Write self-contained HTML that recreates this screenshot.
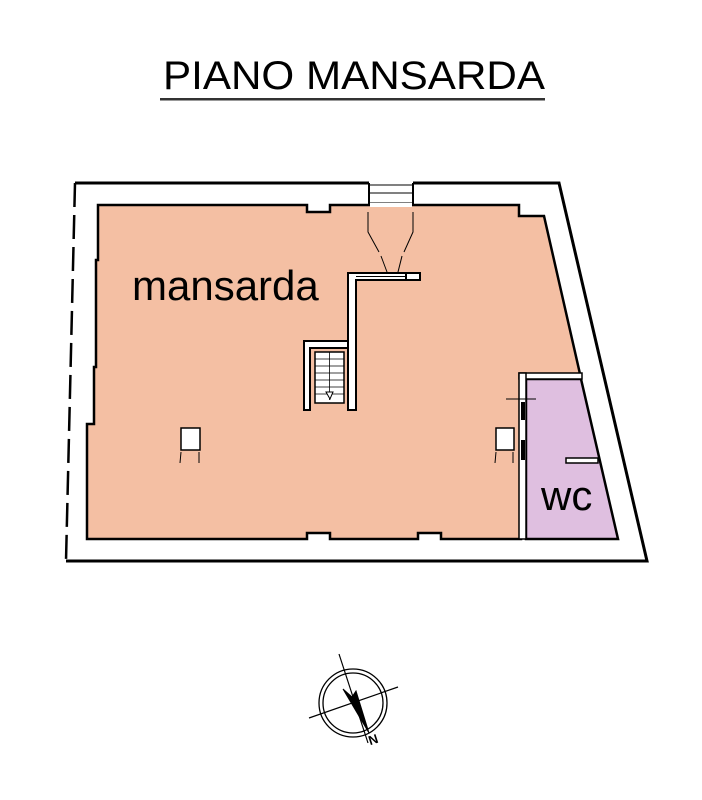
<!DOCTYPE html>
<html><head><meta charset="utf-8"><style>
html,body{margin:0;padding:0;background:#fff;}
svg{display:block;}
</style></head><body>
<svg width="702" height="800" viewBox="0 0 702 800" xmlns="http://www.w3.org/2000/svg" font-family="Liberation Sans, Arial, sans-serif">
<rect width="702" height="800" fill="#fff"/>
<text x="163" y="89" font-size="40" textLength="382" lengthAdjust="spacingAndGlyphs" fill="#000">PIANO MANSARDA</text>
<rect x="160" y="98" width="385" height="2.5" fill="#333"/>

<polyline points="75,183 369,183" fill="none" stroke="#000" stroke-width="3"/>
<polyline points="413,183 559,183 647,561 66,561" fill="none" stroke="#000" stroke-width="3"/>
<line x1="75" y1="183" x2="66" y2="561" stroke="#000" stroke-width="2.5" stroke-dasharray="24,8"/>
<line x1="369" y1="183" x2="369" y2="205" stroke="#000" stroke-width="2"/>
<line x1="413" y1="183" x2="413" y2="205" stroke="#000" stroke-width="2"/>
<line x1="369" y1="185" x2="413" y2="185" stroke="#000" stroke-width="1"/>
<line x1="369" y1="193" x2="413" y2="193" stroke="#000" stroke-width="1"/>
<line x1="369" y1="203" x2="413" y2="203" stroke="#000" stroke-width="1"/>

<polygon points="98,205 307,205 307,212 330,212 330,205 519,205 519,216 544,216 580,374 521,374 521,539 441,539 441,533 418,533 418,539 330,539 330,533 307,533 307,539 87,539 87,424 94,424 94,367 96,367 96,260 98,260"
 fill="#f4bfa3" stroke="#000" stroke-width="2.5" stroke-linejoin="miter"/>
<polygon points="526,379 581,379 618,539 526,539" fill="#dfbfe0" stroke="#000" stroke-width="2.5"/>
<rect x="519" y="373" width="63" height="6" fill="#fff" stroke="#000" stroke-width="1.5"/>
<rect x="519" y="373" width="7" height="166" fill="#fff" stroke="#000" stroke-width="1.5"/>
<rect x="521" y="402" width="4" height="18" fill="#000"/>
<rect x="521" y="440" width="4" height="20" fill="#000"/>
<line x1="506" y1="399" x2="536" y2="399" stroke="#000" stroke-width="1"/>
<rect x="566" y="458" width="32" height="5" fill="#fff" stroke="#000" stroke-width="1.5"/>

<rect x="370" y="203" width="42" height="4" fill="#fff"/>

<g fill="none" stroke="#000" stroke-width="1">
<polyline points="368,212 368,232 379,252"/>
<line x1="381" y1="256" x2="390" y2="280"/>
<polyline points="413,212 413,232 404,252"/>
<line x1="402" y1="256" x2="396" y2="280"/>
</g>

<polygon points="348,273 420,273 420,280 356,280 356,410 348,410" fill="#fff" stroke="#000" stroke-width="2"/>
<rect x="406" y="273" width="14" height="7" fill="#fff" stroke="#000" stroke-width="2"/>
<line x1="356" y1="276.5" x2="406" y2="276.5" stroke="#000" stroke-width="1"/>
<polygon points="304,341 348,341 348,348 310,348 310,410 304,410" fill="#fff" stroke="#000" stroke-width="2"/>
<rect x="315" y="352" width="29" height="51" fill="#fff" stroke="#000" stroke-width="1.5"/>
<g stroke="#000" stroke-width="0.8">
<line x1="315" y1="359" x2="344" y2="359"/><line x1="315" y1="366" x2="344" y2="366"/>
<line x1="315" y1="373" x2="344" y2="373"/><line x1="315" y1="380" x2="344" y2="380"/>
<line x1="315" y1="387" x2="344" y2="387"/><line x1="315" y1="394" x2="344" y2="394"/>
<line x1="329.5" y1="352" x2="329.5" y2="400"/>
</g>
<polygon points="326,392 333,392 330,399" fill="#fff" stroke="#000" stroke-width="1"/>

<rect x="181" y="428" width="19" height="22" fill="#fff" stroke="#000" stroke-width="1.5"/>
<line x1="181" y1="452" x2="180" y2="463" stroke="#000" stroke-width="1"/>
<line x1="199" y1="452" x2="199" y2="463" stroke="#000" stroke-width="1"/>
<rect x="496" y="428" width="18" height="22" fill="#fff" stroke="#000" stroke-width="1.5"/>
<line x1="496" y1="452" x2="495" y2="463" stroke="#000" stroke-width="1"/>
<line x1="513" y1="452" x2="513" y2="463" stroke="#000" stroke-width="1"/>

<text x="132" y="300" font-size="42" fill="#000">mansarda</text>
<text x="541" y="510" font-size="42" fill="#000">wc</text>

<g transform="translate(353,703)" fill="none" stroke="#000">
<circle r="34" stroke-width="1.3"/>
<circle r="30" stroke-width="1.3"/>
<line x1="-14" y1="-49" x2="15" y2="40" stroke-width="1.2"/>
<line x1="-44" y1="15" x2="45" y2="-16" stroke-width="1.2"/>
<polygon points="-10,-14 -1,-6 3,-12 16,30" fill="#000" stroke-width="1"/>
</g>
<text x="368" y="744" font-size="13" font-weight="bold" transform="rotate(-18 373 738)" fill="#000">N</text>
</svg>
</body></html>
